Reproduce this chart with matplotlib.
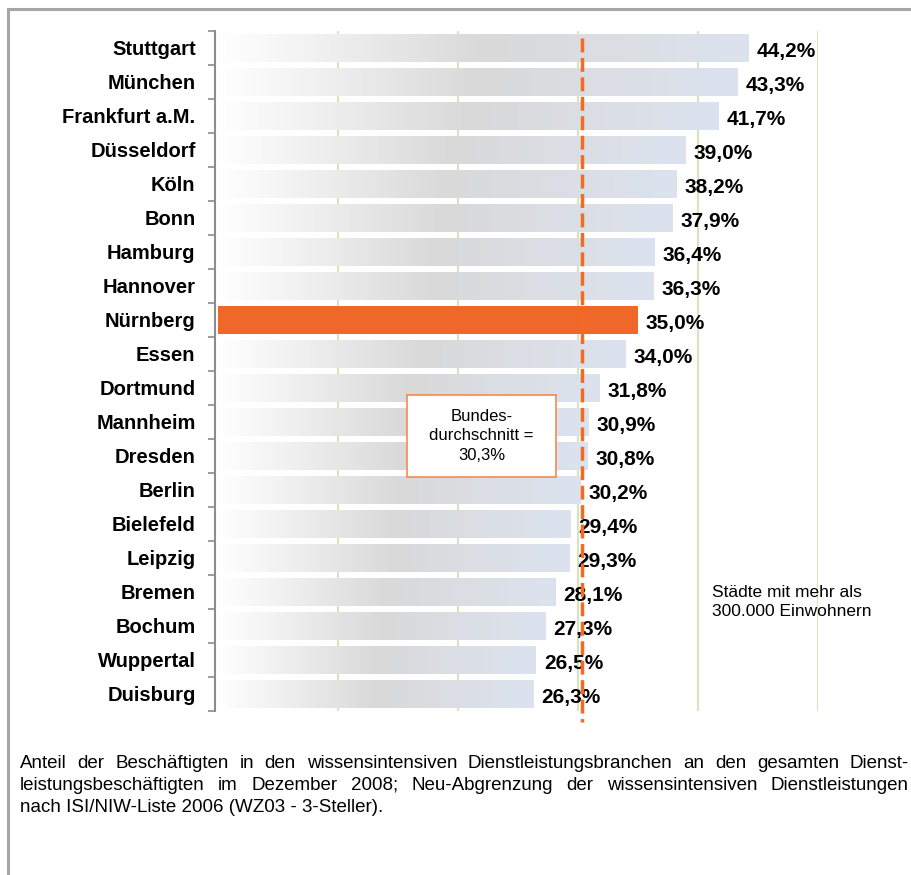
import matplotlib
matplotlib.use("Agg")
import matplotlib.pyplot as plt
import numpy as np
from matplotlib.colors import LinearSegmentedColormap
from matplotlib.lines import Line2D
from matplotlib.patches import Rectangle

# data
cities = ["Stuttgart", "München", "Frankfurt a.M.", "Düsseldorf", "Köln", "Bonn",
          "Hamburg", "Hannover", "Nürnberg", "Essen", "Dortmund", "Mannheim",
          "Dresden", "Berlin", "Bielefeld", "Leipzig", "Bremen", "Bochum",
          "Wuppertal", "Duisburg"]
shares = [44.2, 43.3, 41.7, 39.0, 38.2, 37.9, 36.4, 36.3, 35.0, 34.0, 31.8, 30.9,
          30.8, 30.2, 29.4, 29.3, 28.1, 27.3, 26.5, 26.3]
highlight = "Nürnberg"
bund_avg = 30.3
grid_ticks = [10, 20, 30, 40, 50]

plt.rcParams["font.family"] = ["Liberation Sans", "DejaVu Sans"]

W, H = 912, 875
fig = plt.figure(figsize=(W / 100, H / 100), dpi=100)
ax = fig.add_axes([215 / W, 164 / H, 603 / W, 680 / H])

orange = "#F0672A"
cmap = LinearSegmentedColormap.from_list("bar", ["#FFFFFF", "#D9D9D9", "#DCE3EF"])
grad = np.linspace(0, 1, 256).reshape(1, -1)
bh = 0.82

for i, (c, v) in enumerate(zip(cities, shares)):
    if c == highlight:
        ax.barh(i, v, height=bh, color=orange, zorder=2)
    else:
        ax.imshow(grad, extent=[0, v, i + bh / 2, i - bh / 2], aspect="auto",
                  cmap=cmap, zorder=2, interpolation="bilinear")
    ax.text(v + 0.65, i + 0.1, f"{v:.1f}%".replace(".", ","), va="center", ha="left",
            fontsize=15, fontweight="bold", zorder=4)

for g in grid_ticks:
    ax.axvline(g, color="#D7E4BD", lw=1.5, zorder=1)

ax.plot([bund_avg, bund_avg], [-0.3, len(cities) - 0.5 + 0.33], color="#F26B21",
        lw=2.5, ls=(0, (4, 1.6)), zorder=5, clip_on=False)

ax.set_xlim(-0.25, 50)
ax.set_ylim(len(cities) - 0.5, -0.5)

for s in ["top", "right", "bottom"]:
    ax.spines[s].set_visible(False)
ax.spines["left"].set_color("#8C8C8C")
ax.spines["left"].set_linewidth(1.5)
ax.set_xticks([])
ax.set_yticks(np.arange(len(cities) + 1) - 0.5)
ax.set_yticklabels([])
ax.tick_params(axis="y", which="major", length=5, width=1.2, color="#8C8C8C")
ax.set_yticks(np.arange(len(cities)), minor=True)
ax.set_yticklabels(cities, minor=True, fontsize=14.5, fontweight="bold")
ax.tick_params(axis="y", which="minor", length=0, pad=14)

# Bundesdurchschnitt box
ax.add_patch(Rectangle((15.75, 10.2), 12.4, 2.42, fc="white", ec="#F58A4F", lw=1.2,
                       zorder=6))
ax.text(21.95, 11.41, "Bundes-\ndurchschnitt =\n30,3%", ha="center", va="center",
        fontsize=12, linespacing=1.4, zorder=7)

fig.text(712 / W, 1 - 602 / H, "Städte mit mehr als\n300.000 Einwohnern", ha="left",
         va="center", fontsize=12.5, linespacing=1.3)

# footnote, justified
lines = [
    ("Anteil der Beschäftigten in den wissensintensiven Dienstleistungsbranchen an den gesamten Dienst-", True),
    ("leistungsbeschäftigten im Dezember 2008; Neu-Abgrenzung der wissensintensiven Dienstleistungen", True),
    ("nach ISI/NIW-Liste 2006 (WZ03 - 3-Steller).", False),
]
fig.canvas.draw()
r = fig.canvas.get_renderer()
x0, x1 = 20, 909
for k, (line, just) in enumerate(lines):
    y = 1 - (763 + 22 * k) / H
    if not just:
        fig.text(x0 / W, y, line, fontsize=13.5, va="center", ha="left")
        continue
    words = line.split(" ")
    objs = [fig.text(0, y, w_, fontsize=13.5, va="center", ha="left") for w_ in words]
    widths = [o.get_window_extent(r).width for o in objs]
    gap = (x1 - x0 - sum(widths)) / (len(words) - 1)
    xp = x0
    for o, wd in zip(objs, widths):
        o.set_x(xp / W)
        xp += wd + gap

# frame
fig.add_artist(Line2D([8 / W, 1.01], [1 - 9 / H, 1 - 9 / H], color="#A6A6A6", lw=2.2))
fig.add_artist(Line2D([8 / W, 8 / W], [-0.01, 1 - 9 / H], color="#A6A6A6", lw=2.2))

fig.savefig("out.png", dpi=100)
